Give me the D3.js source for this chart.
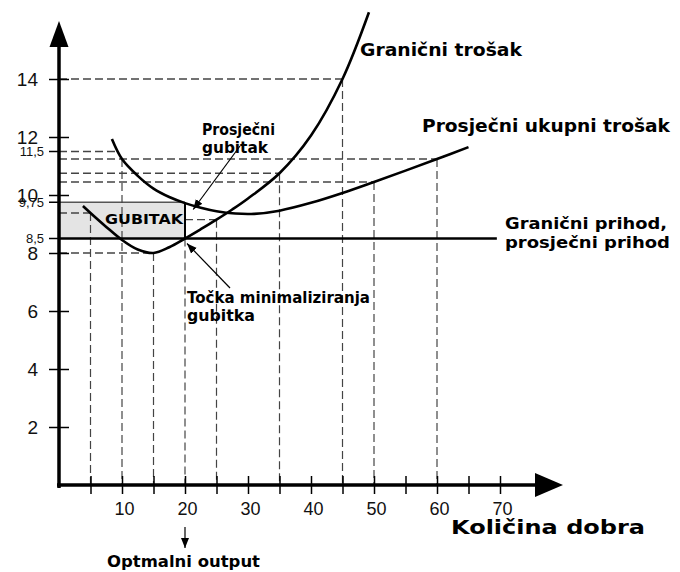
<!DOCTYPE html>
<html>
<head>
<meta charset="utf-8">
<script src="https://cdn.jsdelivr.net/npm/d3@7"></script>
<style>
body { margin: 0; background: #fff; }
svg { display: block; }
.lbl { font-family: "DejaVu Sans", sans-serif; font-weight: bold; fill: #000; }
.num { font-family: "Liberation Sans", Arial, sans-serif; fill: #111; }
.guide { stroke: #444; stroke-width: 1.4; stroke-dasharray: 8,4; fill: none; }
</style>
</head>
<body>
<div id="chart"></div>
<script>
"use strict";
//curve values (quantity, price)
var mcQ = [3.8, 5, 7.5, 10, 12.5, 15, 17.5, 20, 22.5, 25, 27.5, 30, 35, 40, 45, 49.2];
var mcP = [9.62, 9.38, 8.9, 8.45, 8.12, 8.0, 8.2, 8.5, 8.82, 9.15, 9.5, 9.88, 10.75, 12.05, 14.0, 16.3];

var atcQ = [8.4, 10, 12.5, 15, 17.5, 20, 22.5, 25, 28, 31, 35, 40, 45, 50, 55, 60, 65];
var atcP = [11.93, 11.24, 10.66, 10.22, 9.93, 9.72, 9.56, 9.44, 9.36, 9.35, 9.46, 9.73, 10.07, 10.45, 10.84, 11.24, 11.65];

//marginal revenue = average revenue
var mrP = 8.5;
var mrEnd = 69.5;
var optimalQ = 20;
var lossTop = 9.75;

var xTicks = [5, 10, 15, 20, 25, 30, 35, 40, 45, 50, 55, 60, 65, 70];
var yTicks = [2, 4, 6, 8, 10, 12, 14];
var ySmall = [8.5, 9.75, 11.5];
var ySmallLabels = ["8,5", "9,75", "11,5"];

//dashed guides: horizontal [price, from q, to q], vertical [q, from price]
var hGuides = [[14, 0, 45], [11.5, 0, 9.2], [11.24, 0, 60], [10.75, 0, 35], [10.45, 0, 50], [9.38, 0, 5], [9.15, 20, 25], [8, 0, 15]];
var vGuides = [[5, 9.38], [10, 11.24], [15, 8], [20, 8.5], [25, 9.15], [35, 10.75], [45, 14], [50, 10.45], [60, 11.24]];

var w = 680,
  h = 572;

var x = d3.scaleLinear().domain([0, 80]).range([59, 563]);
var y = d3.scaleLinear().domain([0, 16]).range([485, 21]);

var svg = d3
  .select("#chart")
  .append("svg")
  .attr("width", w)
  .attr("height", h);

var defs = svg.append("defs");
defs
  .append("marker")
  .attr("id", "head")
  .attr("viewBox", "0 0 10 10")
  .attr("refX", 10)
  .attr("refY", 5)
  .attr("markerWidth", 10)
  .attr("markerHeight", 10)
  .attr("markerUnits", "userSpaceOnUse")
  .attr("orient", "auto")
  .append("path")
  .attr("d", "M0,1L10,5L0,9Z")
  .attr("fill", "#000");

//loss area
svg
  .append("rect")
  .attr("x", x(0))
  .attr("y", y(lossTop))
  .attr("width", x(optimalQ) - x(0))
  .attr("height", y(mrP) - y(lossTop))
  .attr("fill", "#e4e4e4");
svg
  .append("line")
  .attr("x1", x(0))
  .attr("x2", x(optimalQ))
  .attr("y1", y(lossTop))
  .attr("y2", y(lossTop))
  .attr("stroke", "#555")
  .attr("stroke-width", 1.5);

//guides
svg
  .append("g")
  .selectAll("line")
  .data(hGuides)
  .enter()
  .append("line")
  .attr("class", "guide")
  .attr("x1", function(d) { return x(d[1]); })
  .attr("x2", function(d) { return x(d[2]); })
  .attr("y1", function(d) { return y(d[0]); })
  .attr("y2", function(d) { return y(d[0]); });

svg
  .append("g")
  .selectAll("line")
  .data(vGuides)
  .enter()
  .append("line")
  .attr("class", "guide")
  .style("stroke-width", 1.2)
  .attr("x1", function(d) { return x(d[0]); })
  .attr("x2", function(d) { return x(d[0]); })
  .attr("y1", function(d) { return y(d[1]); })
  .attr("y2", y(0));

//x axis
var xAxis = d3
  .axisBottom(x)
  .tickValues(xTicks)
  .tickSize(9)
  .tickSizeOuter(0)
  .tickFormat(function(d) {
    return d % 10 === 0 ? d : "";
  });
var gx = svg
  .append("g")
  .attr("transform", "translate(0," + y(0) + ")")
  .call(xAxis);
gx.select(".domain").remove();
gx.selectAll(".tick line").attr("y1", -9).attr("stroke", "#000").attr("stroke-width", 1.5);
gx.selectAll(".tick text")
  .attr("class", "num")
  .attr("y", 17)
  .attr("x", 2)
  .style("font-size", "18px")
  .attr("fill", "#111");

//y axis
var yAxis = d3
  .axisLeft(y)
  .tickValues(yTicks)
  .tickSize(10)
  .tickSizeOuter(0);
var gy = svg
  .append("g")
  .attr("transform", "translate(" + x(0) + ",0)")
  .call(yAxis);
gy.select(".domain").remove();
gy.selectAll(".tick line").attr("x2", -10).attr("x1", 10).attr("stroke", "#000").attr("stroke-width", 1.5);
gy.selectAll(".tick text")
  .attr("class", "num")
  .attr("x", -21)
  .style("font-size", "19px")
  .attr("fill", "#111");

var gs = svg.append("g").attr("transform", "translate(" + x(0) + ",0)");
gs.selectAll("line")
  .data(ySmall)
  .enter()
  .append("line")
  .attr("x1", -10)
  .attr("x2", 0)
  .attr("y1", function(d) { return y(d); })
  .attr("y2", function(d) { return y(d); })
  .attr("stroke", "#000")
  .attr("stroke-width", 1.5);
gs.selectAll("text")
  .data(ySmall)
  .enter()
  .append("text")
  .attr("class", "num")
  .attr("x", -15)
  .attr("y", function(d) { return y(d); })
  .attr("dy", "0.35em")
  .attr("text-anchor", "end")
  .style("font-size", "13px")
  .attr("fill", function(d, i) { return i === 2 ? "#555" : "#222"; })
  .text(function(d, i) { return ySmallLabels[i]; });

//axis lines with arrow heads
svg
  .append("line")
  .attr("x1", x(0))
  .attr("x2", x(0))
  .attr("y1", y(0) + 3)
  .attr("y2", y(16) + 24)
  .attr("stroke", "#000")
  .attr("stroke-width", 3.5);
svg
  .append("path")
  .attr("d", "M" + x(0) + "," + y(16) + "L" + (x(0) - 9.5) + "," + (y(16) + 26) + "L" + (x(0) + 9.5) + "," + (y(16) + 26) + "Z")
  .attr("fill", "#000");
svg
  .append("line")
  .attr("x1", x(0) - 2)
  .attr("x2", x(80) - 26)
  .attr("y1", y(0))
  .attr("y2", y(0))
  .attr("stroke", "#000")
  .attr("stroke-width", 3.5);
svg
  .append("path")
  .attr("d", "M" + x(80) + "," + y(0) + "L" + (x(80) - 28) + "," + (y(0) - 12) + "L" + (x(80) - 28) + "," + (y(0) + 12) + "Z")
  .attr("fill", "#000");

//curves
var line = d3
  .line()
  .x(function(d) { return x(d[0]); })
  .y(function(d) { return y(d[1]); })
  .curve(d3.curveCatmullRom.alpha(0.5));

svg
  .append("path")
  .datum(d3.zip(atcQ, atcP))
  .attr("d", line)
  .attr("fill", "none")
  .attr("stroke", "#000")
  .attr("stroke-width", 2.6);

svg
  .append("path")
  .datum(d3.zip(mcQ, mcP))
  .attr("d", line)
  .attr("fill", "none")
  .attr("stroke", "#000")
  .attr("stroke-width", 2.6);

svg
  .append("line")
  .attr("x1", x(0))
  .attr("x2", x(mrEnd))
  .attr("y1", y(mrP))
  .attr("y2", y(mrP))
  .attr("stroke", "#000")
  .attr("stroke-width", 2.4);

//right edge of loss area
svg
  .append("line")
  .attr("x1", x(optimalQ))
  .attr("x2", x(optimalQ))
  .attr("y1", y(lossTop))
  .attr("y2", y(mrP))
  .attr("stroke", "#000")
  .attr("stroke-width", 2);

//labels
function label(t, lx, ly, size, len) {
  svg
    .append("text")
    .attr("class", "lbl")
    .attr("x", lx)
    .attr("y", ly)
    .attr("textLength", len)
    .attr("lengthAdjust", "spacingAndGlyphs")
    .style("font-size", size + "px")
    .text(t);
}
label("Granični trošak", 360, 56, 17, 162);
label("Prosječni ukupni trošak", 422, 132, 17, 248);
label("Granični prihod,", 505, 229, 16, 162);
label("prosječni prihod", 505, 248, 16, 165);
label("Prosječni", 202, 135, 15, 73);
label("gubitak", 202, 153, 15, 66);
label("GUBITAK", 105, 224, 14, 78);
label("Točka minimaliziranja", 187, 303, 16, 183);
label("gubitka", 187, 321, 16, 68);
label("Količina dobra", 451, 534, 19, 194);
label("Optmalni output", 107, 567, 15, 153);

//pointer arrows
function arrow(x1, y1, x2, y2) {
  svg
    .append("line")
    .attr("x1", x1)
    .attr("y1", y1)
    .attr("x2", x2)
    .attr("y2", y2)
    .attr("stroke", "#000")
    .attr("stroke-width", 1.2)
    .attr("marker-end", "url(#head)");
}
arrow(240, 146, x(21.3), y(9.5));
arrow(230, 288, x(optimalQ) + 2, y(mrP) + 5);
arrow(x(optimalQ), 527, x(optimalQ), 548);
</script>
</body>
</html>
